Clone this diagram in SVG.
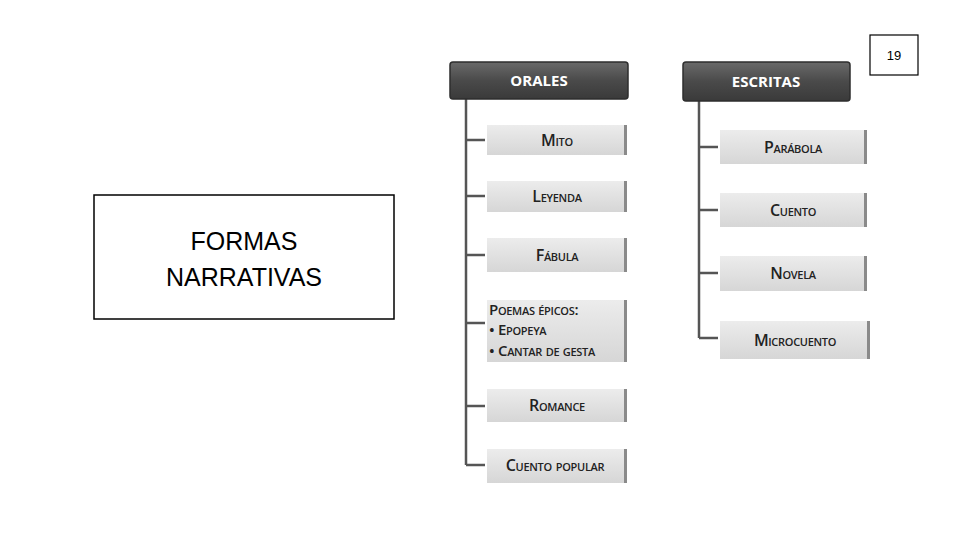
<svg xmlns="http://www.w3.org/2000/svg" width="960" height="540" viewBox="0 0 960 540">
<defs>
<linearGradient id="dk" x1="0" y1="0" x2="0" y2="1"><stop offset="0" stop-color="#6a6a6a"/><stop offset="0.5" stop-color="#4a4a4a"/><stop offset="1" stop-color="#3a3a3a"/></linearGradient>
<linearGradient id="lt" x1="0" y1="0" x2="0" y2="1"><stop offset="0" stop-color="#ececec"/><stop offset="1" stop-color="#d6d6d6"/></linearGradient>
</defs>
<style>
.h{fill:url(#dk);stroke:#2e2e2e;stroke-width:1.5}
.c{fill:url(#lt);stroke:none}
.e{fill:#8a8a8a}
.ht{font-family:"Open Sans",sans-serif;font-weight:bold;font-size:15px;fill:#fff;text-anchor:middle}
.ct{font-family:"Open Sans",sans-serif;font-weight:600;font-size:16px;fill:#222;font-variant:small-caps;text-anchor:middle;letter-spacing:-0.3px}
.pt{font-size:15px}
.ln{stroke:#555;stroke-width:2.5;fill:none}
</style>
<rect x="0" y="0" width="960" height="540" fill="#fff"/>
<g id="title">
<rect x="94" y="195" width="300" height="124" fill="#fff" stroke="#000" stroke-width="1.5"/>
<text x="244" y="250" font-family="Liberation Sans,sans-serif" font-size="25" text-anchor="middle">FORMAS</text>
<text x="244" y="286" font-family="Liberation Sans,sans-serif" font-size="25" text-anchor="middle">NARRATIVAS</text>
</g>
<g id="pagenum">
<rect x="870" y="35" width="48" height="40" fill="#fff" stroke="#000" stroke-width="1.2"/>
<text x="894" y="60" font-family="Liberation Sans,sans-serif" font-size="13" text-anchor="middle">19</text>
</g>
<g id="connectors">
<path class="ln" d="M466 99V465M466 140H485M466 196H485M466 255H485M466 323H485M466 406H485M466 465H485"/>
<path class="ln" d="M699 101V338M699 147H718M699 210H718M699 273H718M699 338H718"/>
</g>
<g id="orales"><rect class="h" x="450" y="62" width="178" height="37" rx="3"/><text class="ht" x="539" y="86">ORALES</text></g>
<g id="escritas"><rect class="h" x="683" y="62" width="167" height="39" rx="3"/><text class="ht" x="766" y="87">ESCRITAS</text></g>
<g id="mito"><rect class="c" x="487" y="125" width="140" height="30"/><rect class="e" x="624" y="125" width="3" height="30"/><text class="ct" x="557" y="146">Mito</text></g>
<g id="leyenda"><rect class="c" x="487" y="181" width="140" height="31"/><rect class="e" x="624" y="181" width="3" height="31"/><text class="ct" x="557" y="202">Leyenda</text></g>
<g id="fabula"><rect class="c" x="487" y="238" width="140" height="34"/><rect class="e" x="624" y="238" width="3" height="34"/><text class="ct" x="557" y="261">Fábula</text></g>
<g id="poemas"><rect class="c" x="487" y="300" width="140" height="62"/><rect class="e" x="624" y="300" width="3" height="62"/>
<text class="ct pt" x="489" y="315" style="text-anchor:start">Poemas épicos:</text>
<text class="ct pt" x="489" y="335" style="text-anchor:start">•  Epopeya</text>
<text class="ct pt" x="489" y="356" style="text-anchor:start">•  Cantar de gesta</text></g>
<g id="romance"><rect class="c" x="487" y="389" width="140" height="33"/><rect class="e" x="624" y="389" width="3" height="33"/><text class="ct" x="557" y="411">Romance</text></g>
<g id="cuentopopular"><rect class="c" x="487" y="449" width="140" height="34"/><rect class="e" x="624" y="449" width="3" height="34"/><text class="ct" x="555" y="471">Cuento popular</text></g>
<g id="parabola"><rect class="c" x="720" y="130" width="147" height="34"/><rect class="e" x="864" y="130" width="3" height="34"/><text class="ct" x="793" y="153">Parábola</text></g>
<g id="cuento"><rect class="c" x="720" y="193" width="147" height="34"/><rect class="e" x="864" y="193" width="3" height="34"/><text class="ct" x="793" y="216">Cuento</text></g>
<g id="novela"><rect class="c" x="720" y="256" width="147" height="35"/><rect class="e" x="864" y="256" width="3" height="35"/><text class="ct" x="793" y="279">Novela</text></g>
<g id="microcuento"><rect class="c" x="720" y="321" width="150" height="38"/><rect class="e" x="867" y="321" width="3" height="38"/><text class="ct" x="795" y="346">Microcuento</text></g>
</svg>
